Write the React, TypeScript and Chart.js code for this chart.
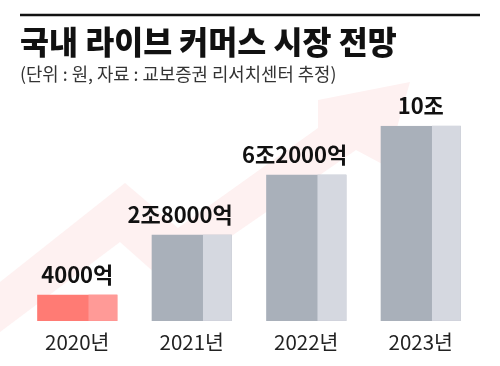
import React, { useEffect, useRef } from "react";
import { Chart, registerables } from "chart.js";

Chart.register(...registerables);

const years = ["2020년", "2021년", "2022년", "2023년"];
const valueLabels = ["4000억", "2조8000억", "6조2000억", "10조"];
// bar heights as drawn in the source graphic (not to scale), in units where 10조 = 10
const barHeights = [1.34, 4.41, 7.49, 10];
const darkColors = ["#ff7b74", "#a9b0ba", "#a9b0ba", "#a9b0ba"];
const lightColors = ["#ff9a97", "#d5d8e0", "#d5d8e0", "#d5d8e0"];
const titleText = "국내 라이브 커머스 시장 전망";
const subtitleText = "(단위 : 원, 자료 : 교보증권 리서치센터 추정)";

const FONT = '"Noto Sans CJK KR", "Noto Sans", sans-serif';

const backgroundPlugin = {
  id: "bgDecor",
  beforeDraw(chart: any) {
    const { ctx, width } = chart;
    ctx.save();
    ctx.fillStyle = "#ffffff";
    ctx.fillRect(0, 0, width, chart.height);
    // faint rising arrow
    ctx.fillStyle = "#fef1f1";
    ctx.beginPath();
    ctx.moveTo(0, 282);
    ctx.lineTo(125, 183);
    ctx.lineTo(178, 228);
    ctx.lineTo(318, 128);
    ctx.lineTo(318, 100);
    ctx.lineTo(410, 82);
    ctx.lineTo(386, 166);
    ctx.lineTo(356, 150);
    ctx.lineTo(165, 282);
    ctx.lineTo(120, 242);
    ctx.lineTo(0, 332);
    ctx.closePath();
    ctx.fill();
    // top rule
    ctx.strokeStyle = "#111111";
    ctx.lineWidth = 2.5;
    ctx.beginPath();
    ctx.moveTo(20, 15);
    ctx.lineTo(480, 15);
    ctx.stroke();
    ctx.restore();
  },
};

const barDecorPlugin = {
  id: "barDecor",
  afterDatasetsDraw(chart: any) {
    const { ctx } = chart;
    const meta = chart.getDatasetMeta(0);
    ctx.save();
    meta.data.forEach((el: any, i: number) => {
      const { x, y, base, width } = el.getProps(["x", "y", "base", "width"], true);
      const left = x - width / 2;
      const split = left + width * 0.64;
      ctx.fillStyle = lightColors[i];
      ctx.fillRect(split, y, x + width / 2 - split, base - y);
      // value label
      ctx.font = `700 22px ${FONT}`;
      ctx.fillStyle = "#111111";
      ctx.textBaseline = "alphabetic";
      const tw = ctx.measureText(valueLabels[i]).width;
      if (tw <= width) {
        ctx.textAlign = "center";
        ctx.fillText(valueLabels[i], x, y - 12);
      } else {
        ctx.textAlign = "right";
        ctx.fillText(valueLabels[i], x + width / 2 + 1, y - 12);
      }
    });
    ctx.restore();
  },
};

export default function App() {
  const ref = useRef<HTMLCanvasElement | null>(null);
  useEffect(() => {
    document.body.style.margin = "0";
    if (!ref.current) return;
    const chart = new Chart(ref.current, {
      type: "bar",
      data: {
        labels: years,
        datasets: [
          {
            data: barHeights,
            backgroundColor: darkColors,
            borderWidth: 0,
            barPercentage: 1,
            categoryPercentage: 0.7,
          },
        ],
      },
      options: {
        responsive: false,
        animation: false,
        devicePixelRatio: 1,
        layout: { padding: { left: 20, right: 22, top: 0, bottom: 2.5 } },
        plugins: {
          legend: { display: false },
          tooltip: { enabled: false },
          title: {
            display: true,
            text: titleText,
            align: "start",
            color: "#111111",
            font: { family: FONT, size: 31.5, weight: "900", lineHeight: 1.1 },
            padding: { top: 24.5, bottom: 3 },
          },
          subtitle: {
            display: true,
            text: subtitleText,
            align: "start",
            color: "#333333",
            font: { family: FONT, size: 17.8, weight: "400", lineHeight: 1.1 },
            padding: { top: 2, bottom: 42 },
          },
        },
        scales: {
          x: {
            grid: { display: false, drawTicks: false },
            border: { display: false },
            ticks: {
              color: "#222222",
              padding: 9,
              font: { family: FONT, size: 20.5, weight: "400", lineHeight: 1.2 },
            },
          },
          y: {
            display: false,
            min: 0,
            max: 10,
          },
        },
      },
      plugins: [backgroundPlugin, barDecorPlugin],
    });
    return () => chart.destroy();
  }, []);
  return (
    <div style={{ width: 500, height: 366 }}>
      <canvas ref={ref} width={500} height={366} style={{ display: "block" }} />
    </div>
  );
}
